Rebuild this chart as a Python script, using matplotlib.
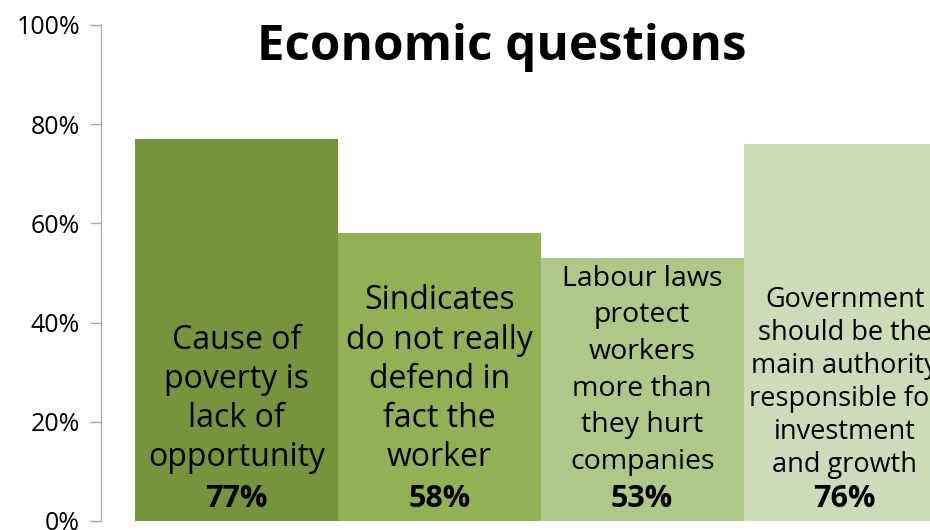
import matplotlib.pyplot as plt
from matplotlib.ticker import PercentFormatter

questions = [
    "Cause of\npoverty is\nlack of\nopportunity",
    "Sindicates\ndo not really\ndefend in\nfact the\nworker",
    "Labour laws\nprotect\nworkers\nmore than\nthey hurt\ncompanies",
    "Government\nshould be the\nmain authority\nresponsible for\ninvestment\nand growth",
]
shares = [77, 58, 53, 76]
bar_colors = ["#77933c", "#93b055", "#afc787", "#cedbb8"]
label_sizes = [23, 23, 20.5, 19.5]
label_spacing = [1.24, 1.25, 1.41, 1.24]
label_bottom = [9.4, 9.4, 9.1, 8.4]

plt.rcParams['font.family'] = ['Open Sans', 'DejaVu Sans']

fig = plt.figure(figsize=(9.3, 5.3), dpi=100)
ax = fig.add_axes([0.1086, 0.017, 0.8914, 0.936])

x = range(len(shares))
ax.bar(x, shares, width=1.0, color=bar_colors, clip_on=False)

for i, v in enumerate(shares):
    ax.text(i, label_bottom[i], questions[i], ha="center", va="bottom",
            fontsize=label_sizes[i], linespacing=label_spacing[i], color="black")
    ax.text(i, 2.9, f"{v}%", ha="center", va="baseline", fontsize=22,
            fontweight="bold", color="black")

ax.set_xlim(-0.67, 3.42)
ax.set_ylim(0, 100)
ax.set_yticks([0, 20, 40, 60, 80, 100])
ax.yaxis.set_major_formatter(PercentFormatter(decimals=0))
ax.tick_params(axis="y", length=8, width=1, color="#a6a6a6", labelsize=18, pad=7)
ax.set_xticks([])

for side in ["top", "right", "bottom"]:
    ax.spines[side].set_visible(False)
ax.spines["left"].set_color("#a6a6a6")

fig.text(0.54, 0.91, "Economic questions", ha="center", va="center",
         fontsize=35.5, fontweight="bold")

fig.savefig("out.png", dpi=100)
